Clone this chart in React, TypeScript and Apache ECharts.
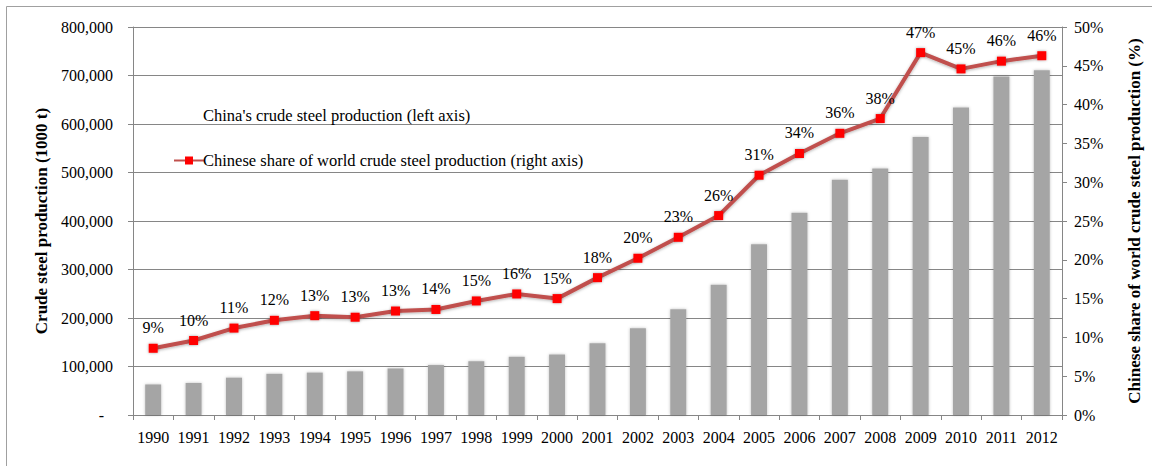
import React, { useEffect, useRef } from "react";
import * as echarts from "echarts";

const years = ["1990","1991","1992","1993","1994","1995","1996","1997","1998","1999","2000","2001","2002","2003","2004","2005","2006","2007","2008","2009","2010","2011","2012"];
const production = [63000,66000,77000,85000,87500,90000,96000,103000,111000,120000,125000,148000,179000,218000,268500,352000,417000,485000,508000,573000,634000,698000,711000];
const sharePct = [8.6,9.6,11.2,12.2,12.8,12.6,13.4,13.6,14.7,15.6,15.0,17.7,20.2,22.9,25.7,30.9,33.7,36.3,38.2,46.7,44.6,45.6,46.3];

const barName = "China's crude steel production (left axis)";
const lineName = "Chinese share of world crude steel production (right axis)";
const leftAxisName = "Crude steel production (1000 t)";
const rightAxisName = "Chinese share of world crude steel production (%)";

const FONT = "Liberation Serif";

export default function App() {
  const ref = useRef<HTMLDivElement>(null);
  useEffect(() => {
    if (!ref.current) return;
    const chart = echarts.init(ref.current, null, { renderer: "svg" });
    chart.setOption({
      animation: false,
      backgroundColor: "#ffffff",
      textStyle: { fontFamily: FONT },
      graphic: [
        {
          type: "rect",
          shape: { x: 6.5, y: 6.5, width: 1160, height: 480 },
          style: { fill: "none", stroke: "#a0a0a0", lineWidth: 1 },
          silent: true,
        },
      ],
      legend: {
        orient: "vertical",
        left: 168,
        top: 102,
        itemGap: 28,
        itemWidth: 30,
        itemHeight: 10,
        selectedMode: false,
        textStyle: { fontFamily: FONT, fontSize: 16.5, color: "#000", padding: [0, 0, 0, -6] },
        data: [
          { name: barName, itemStyle: { opacity: 0 } },
          { name: lineName },
        ],
      },
      grid: { left: 133, right: 90, top: 27, bottom: 51 },
      xAxis: {
        type: "category",
        data: years,
        boundaryGap: true,
        axisLine: { lineStyle: { color: "#868686", width: 1 } },
        axisTick: { show: true, length: 5, interval: 0, lineStyle: { color: "#868686" } },
        axisLabel: { fontFamily: FONT, fontSize: 16, color: "#000", margin: 14, interval: 0 },
      },
      yAxis: [
        {
          type: "value",
          min: 0,
          max: 800000,
          interval: 100000,
          name: leftAxisName,
          nameLocation: "middle",
          nameRotate: 90,
          nameGap: 82,
          nameTextStyle: { fontFamily: FONT, fontSize: 17, fontWeight: "bold", color: "#000" },
          axisLine: { show: true, lineStyle: { color: "#868686" } },
          axisTick: { show: true, length: 5, lineStyle: { color: "#868686" } },
          splitLine: { show: true, lineStyle: { color: "#868686", width: 1 } },
          axisLabel: {
            fontFamily: FONT,
            fontSize: 16,
            color: "#000",
            margin: 20,
            formatter: (v: number) => (v === 0 ? "{d|-}" : v.toLocaleString("en-US")),
            rich: { d: { fontFamily: FONT, fontSize: 16, color: "#000", padding: [0, 9, 0, 0] } },
          },
        },
        {
          type: "value",
          min: 0,
          max: 50,
          interval: 5,
          name: rightAxisName,
          nameLocation: "middle",
          nameRotate: 90,
          nameGap: 64,
          nameTextStyle: { fontFamily: FONT, fontSize: 17, fontWeight: "bold", color: "#000" },
          axisLine: { show: true, lineStyle: { color: "#868686" } },
          axisTick: { show: true, length: 5, lineStyle: { color: "#868686" } },
          splitLine: { show: false },
          axisLabel: {
            fontFamily: FONT,
            fontSize: 16,
            color: "#000",
            margin: 12,
            formatter: (v: number) => v + "%",
          },
        },
      ],
      series: [
        {
          name: barName,
          type: "bar",
          yAxisIndex: 0,
          data: production,
          barWidth: 16,
          itemStyle: { color: "#a5a5a5", shadowBlur: 3, shadowColor: "rgba(0,0,0,0.25)" },
        },
        {
          name: lineName,
          type: "line",
          yAxisIndex: 1,
          data: sharePct,
          symbol: "rect",
          symbolSize: 9,
          lineStyle: { color: "#c0504d", width: 4, shadowBlur: 3, shadowColor: "rgba(0,0,0,0.3)", shadowOffsetY: 1 },
          itemStyle: { color: "#ff0000", shadowBlur: 3, shadowColor: "rgba(0,0,0,0.35)" },
          label: {
            show: true,
            position: "top",
            distance: 8,
            fontFamily: FONT,
            fontSize: 16,
            color: "#000",
            formatter: (p: any) => Math.round(p.value) + "%",
          },
        },
      ],
    });
    return () => chart.dispose();
  }, []);
  return (
    <div
      ref={ref}
      style={{ position: "fixed", left: 0, top: 0, width: 1152, height: 466 }}
    />
  );
}
